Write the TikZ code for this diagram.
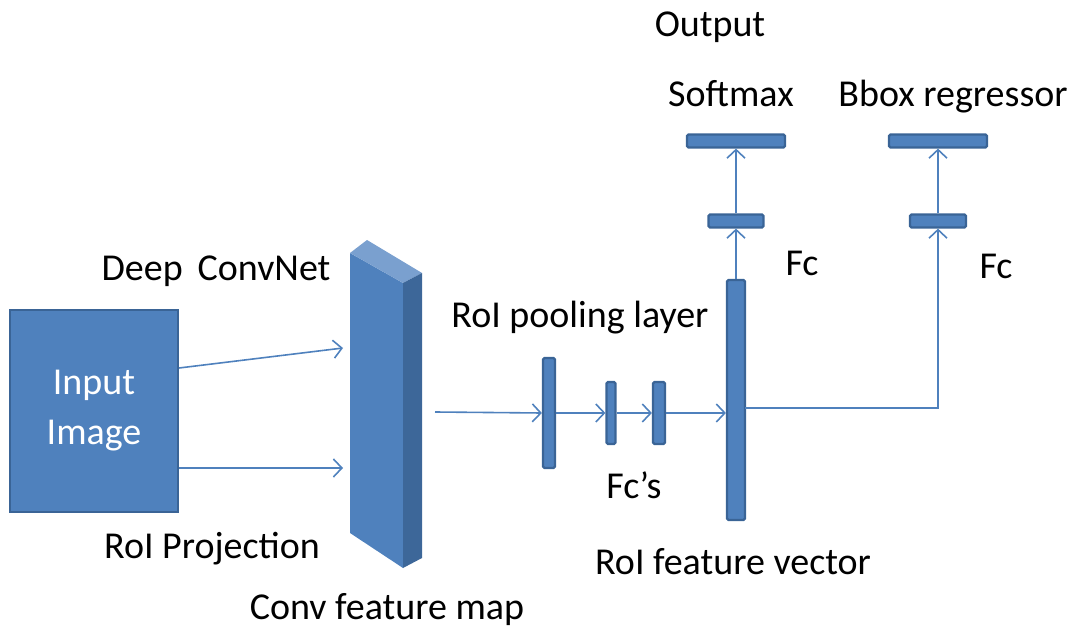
\documentclass[tikz,border=0pt]{standalone}
\usepackage{fontspec}
\setmainfont{Carlito}
\usetikzlibrary{arrows.meta,positioning}
\definecolor{boxblue}{HTML}{4F81BD}
\definecolor{boxedge}{HTML}{3A6496}
\definecolor{boxtop}{HTML}{7AA0CF}
\definecolor{boxside}{HTML}{3D6799}

\begin{document}
\begin{tikzpicture}[x=1pt,y=-1pt,font=\fontsize{38}{50}\selectfont,
  bar/.style={draw=boxedge,fill=boxblue,line width=2.2pt,rounded corners=1.5pt,inner sep=0pt},
  flow/.style={draw=boxblue,line width=1.6pt,-{Straight Barb[length=8.5pt,width=18pt]}},
  lbl/.style={inner sep=0pt,anchor=base}]
\useasboundingbox (0,0) rectangle (1070,628);
% input image and conv feature map
\node[bar,rounded corners=0pt,minimum width=168pt,minimum height=202pt,align=center,text=white] (input) at (94,411) {Input\\Image};
\fill[boxblue] (350,253) -- (403,283) -- (403,568) -- (350,533) -- cycle;
\fill[boxtop] (350,253) -- (367,240) -- (422,273) -- (403,283) -- cycle;
\fill[boxside] (403,283) -- (422,273) -- (422,558) -- (403,568) -- cycle;
\coordinate (inA) at (179,368);
\coordinate (inB) at (179,468);
\coordinate (fmA) at (343,348);
\coordinate (fmB) at (343,468);
\coordinate (fmout) at (435,412);
% layers
\node[bar,minimum width=12pt,minimum height=110pt] (pool) at (549,413) {};
\node[bar,minimum width=9pt,minimum height=62pt] (fcA) at (611,413) {};
\node[bar,minimum width=12pt,minimum height=62pt] (fcB) at (659,413) {};
\node[bar,minimum width=18pt,minimum height=240pt] (vec) at (736,400) {};
\coordinate (vecout) at (745,408);
\node[bar,minimum width=55pt,minimum height=13pt] (fcS) at (736,221) {};
\node[bar,minimum width=98pt,minimum height=13pt] (soft) at (736,141) {};
\node[bar,minimum width=56pt,minimum height=13pt] (fcR) at (938,221) {};
\node[bar,minimum width=98pt,minimum height=13pt] (bbox) at (938,141) {};
% connectors
\draw[flow] (inA) -- (fmA);
\draw[flow] (inB) -- (fmB);
\draw[flow] (fmout) -- (pool.west);
\draw[flow] (pool.east) -- (fcA.west);
\draw[flow] (fcA.east) -- (fcB.west);
\draw[flow] (fcB.east) -- (fcB.east -| vec.west);
\draw[flow] (vec.north) -- (fcS.south);
\draw[flow] (fcS.north) -- (soft.south);
\draw[flow] (vecout) -| (fcR.south);
\draw[flow] (fcR.north) -- (bbox.south);
% labels
\node[lbl] (outlbl) at (710,37) {Output};
\node[lbl] (softlbl) at (731,107) {Softmax};
\node[lbl] (bboxlbl) at (953,107) {Bbox regressor};
\node[lbl] (fcSlbl) at (802,275) {Fc};
\node[lbl] (fcRlbl) at (996,278) {Fc};
\node[lbl] (deeplbl) at (216,280) {Deep\, ConvNet};
\node[lbl] (projlbl) at (212,558) {RoI Projection};
\node[lbl] (fmlbl) at (387,619) {Conv feature map};
\node[lbl] (poollbl) at (580,327) {RoI pooling layer};
\node[lbl] (fcslbl) at (634,498) {Fc’s};
\node[lbl] (veclbl) at (733,574) {RoI feature vector};
\end{tikzpicture}
\end{document}
